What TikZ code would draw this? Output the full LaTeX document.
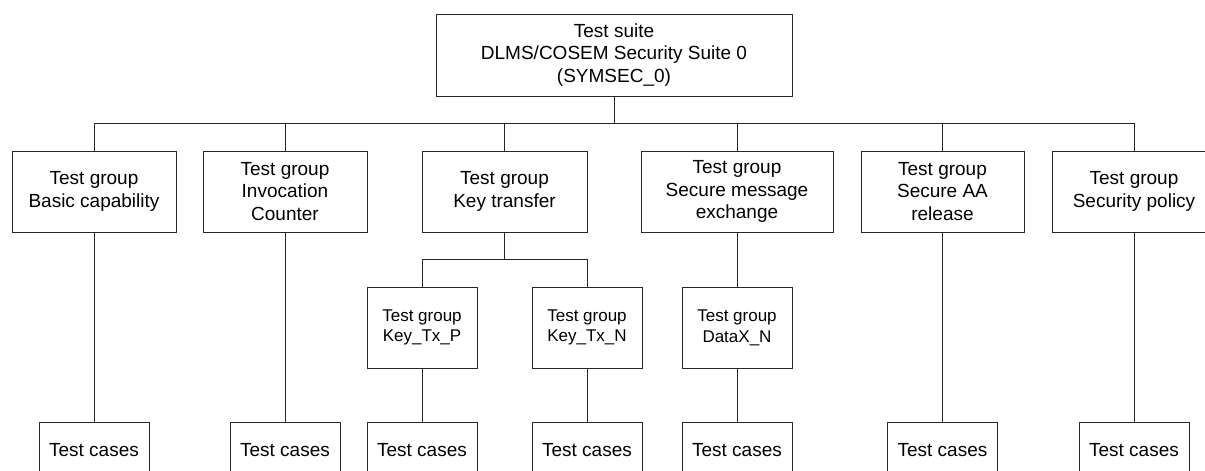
\documentclass[tikz,border=0pt]{standalone}
\usepackage{fontspec}
\setmainfont{Liberation Sans}
\begin{document}
\begin{tikzpicture}[x=1pt,y=-1pt,
  box/.style={draw=black!85, line width=0.9pt, align=center, inner sep=0pt,
    font=\fontsize{19}{22.5}\selectfont},
  topbox/.style={box, minimum width=356pt, minimum height=82pt},
  grp/.style={box, minimum height=81pt},
  sub/.style={box, minimum width=110pt, minimum height=81pt,
    font=\fontsize{17}{20.7}\selectfont},
  cases/.style={box, minimum width=110pt, minimum height=56pt},
  link/.style={draw=black!85, line width=0.9pt}]
\useasboundingbox (0,0) rectangle (1205,471);
\clip (0,0) rectangle (1205,471);
\node[topbox] (top) at (614,55) {Test suite\\DLMS/COSEM Security Suite 0\\(SYMSEC\_0)};
\node[grp, minimum width=164pt] (g1) at (94,191.5) {Test group\\Basic capability};
\node[grp, minimum width=164pt] (g2) at (285,191.5) {Test group\\Invocation\\Counter};
\node[grp, minimum width=165pt] (g3) at (504.5,191.5) {Test group\\Key transfer};
\node[grp, minimum width=192pt] (g4) at (737,191.5) {Test group\\Secure message\\exchange};
\node[grp, minimum width=163pt] (g5) at (942.5,191.5) {Test group\\Secure AA\\release};
\node[grp, minimum width=164pt] (g6) at (1134,191.5) {Test group\\Security policy};
\node[sub] (kp) at (422,327.5) {Test group\\Key\_Tx\_P};
\node[sub] (kn) at (587,327.5) {Test group\\Key\_Tx\_N};
\node[sub] (dx) at (737,327.5) {Test group\\DataX\_N};
\node[cases] (t1) at (94,450) {Test cases};
\node[cases] (t2) at (285,450) {Test cases};
\node[cases] (t3) at (422,450) {Test cases};
\node[cases] (t4) at (587,450) {Test cases};
\node[cases] (t5) at (737,450) {Test cases};
\node[cases] (t6) at (942.5,450) {Test cases};
\node[cases] (t7) at (1134,450) {Test cases};
\coordinate (bus) at (0,123);
\coordinate (subbus) at (0,259);
\draw[link] (top.south) -- (top.south |- bus);
\draw[link] (g1.north) |- (g6.north |- bus) -- (g6.north);
\foreach \g in {g2,g3,g4,g5} \draw[link] (\g.north) -- (\g.north |- bus);
\draw[link] (g3.south) -- (g3.south |- subbus);
\draw[link] (kp.north) |- (kn.north |- subbus) -- (kn.north);
\draw[link] (g1.south) -- (t1.north);
\draw[link] (g2.south) -- (t2.north);
\draw[link] (kp.south) -- (t3.north);
\draw[link] (kn.south) -- (t4.north);
\draw[link] (g4.south) -- (dx.north);
\draw[link] (dx.south) -- (t5.north);
\draw[link] (g5.south) -- (t6.north);
\draw[link] (g6.south) -- (t7.north);
\end{tikzpicture}
\end{document}
